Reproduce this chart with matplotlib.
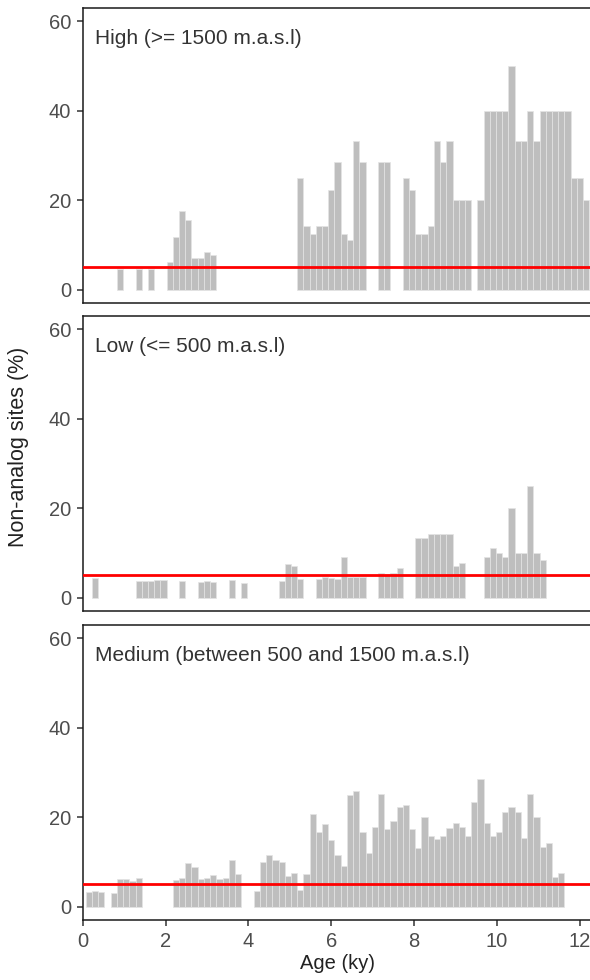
import matplotlib
matplotlib.use("Agg")
import matplotlib.pyplot as plt

# Non-analog sites (%) per 0.15 ky age bin, by elevation class
bin_width = 0.15
threshold = 5

high_age = [0.90, 1.35, 1.65,
            2.10, 2.25, 2.40, 2.55, 2.70, 2.85, 3.00, 3.15,
            5.25, 5.40, 5.55, 5.70, 5.85, 6.00, 6.15, 6.30, 6.45, 6.60, 6.75,
            7.20, 7.35,
            7.80, 7.95, 8.10, 8.25, 8.40, 8.55, 8.70, 8.85, 9.00, 9.15, 9.30,
            9.60, 9.75, 9.90, 10.05, 10.20, 10.35, 10.50, 10.65, 10.80, 10.95,
            11.10, 11.25, 11.40, 11.55, 11.70, 11.85, 12.00, 12.15]
high_pct = [4.5, 4.5, 4.5,
            6.2, 11.8, 17.6, 15.5, 7.1, 7.1, 8.3, 7.7,
            25.0, 14.3, 12.5, 14.3, 14.3, 22.2, 28.6, 12.5, 11.1, 33.3, 28.6,
            28.6, 28.6,
            25.0, 22.2, 12.5, 12.5, 14.3, 33.3, 28.6, 33.3, 20.0, 20.0, 20.0,
            20.0, 40.0, 40.0, 40.0, 40.0, 50.0, 33.3, 33.3, 40.0, 33.3,
            40.0, 40.0, 40.0, 40.0, 40.0, 25.0, 25.0, 20.0]

low_age = [0.30,
           1.35, 1.50, 1.65, 1.80, 1.95,
           2.40,
           2.85, 3.00, 3.15,
           3.60, 3.90,
           4.80, 4.95, 5.10, 5.25,
           5.70, 5.85, 6.00, 6.15, 6.30, 6.45, 6.60, 6.75,
           7.20, 7.35, 7.50, 7.65,
           8.10, 8.25, 8.40, 8.55, 8.70, 8.85, 9.00, 9.15,
           9.75, 9.90, 10.05, 10.20, 10.35, 10.50, 10.65, 10.80, 10.95, 11.10]
low_pct = [4.4,
           3.8, 3.8, 3.8, 3.9, 4.0,
           3.6,
           3.5, 3.6, 3.5,
           3.9, 3.3,
           3.8, 7.5, 7.1, 4.1,
           4.1, 4.6, 4.4, 4.2, 9.1, 4.6, 4.6, 4.6,
           5.6, 5.3, 5.6, 6.7,
           13.3, 13.3, 14.3, 14.3, 14.3, 14.3, 7.1, 7.7,
           9.1, 11.1, 10.0, 9.1, 20.0, 10.0, 10.0, 25.0, 10.0, 8.3]

medium_age = [0.15, 0.30, 0.45,
              0.75, 0.90, 1.05, 1.20, 1.35,
              2.25, 2.40, 2.55, 2.70, 2.85, 3.00, 3.15, 3.30, 3.45, 3.60, 3.75,
              4.20, 4.35, 4.50, 4.65, 4.80, 4.95, 5.10, 5.25, 5.40, 5.55,
              5.70, 5.85, 6.00, 6.15, 6.30, 6.45, 6.60, 6.75, 6.90, 7.05,
              7.20, 7.35, 7.50, 7.65, 7.80, 7.95, 8.10, 8.25, 8.40, 8.55,
              8.70, 8.85, 9.00, 9.15, 9.30, 9.45, 9.60, 9.75, 9.90, 10.05,
              10.20, 10.35, 10.50, 10.65, 10.80, 10.95, 11.10, 11.25, 11.40, 11.55]
medium_pct = [3.3, 3.5, 3.2,
              3.1, 6.2, 6.1, 5.7, 6.5,
              5.9, 6.5, 9.7, 8.8, 6.1, 6.5, 7.1, 6.1, 6.5, 10.4, 7.4,
              3.6, 10.0, 11.5, 10.4, 10.0, 6.8, 7.6, 3.7, 7.4, 20.7,
              16.8, 18.5, 14.9, 11.5, 9.1, 25.0, 25.9, 16.8, 12.0, 17.9,
              25.1, 17.4, 19.2, 22.2, 22.7, 17.3, 13.0, 20.0, 15.8, 15.1,
              15.8, 17.5, 18.8, 17.7, 15.8, 23.5, 28.5, 18.8, 15.8, 16.8,
              21.2, 22.2, 21.1, 15.3, 25.1, 20.0, 13.3, 14.3, 6.6, 7.6]

panel_labels = ["High (>= 1500 m.a.s.l)",
                "Low (<= 500 m.a.s.l)",
                "Medium (between 500 and 1500 m.a.s.l)"]
panels = [(high_age, high_pct), (low_age, low_pct), (medium_age, medium_pct)]

plt.rcParams['font.family'] = ['Liberation Sans', 'DejaVu Sans']

W, H = 590, 980
fig = plt.figure(figsize=(W / 100, H / 100), dpi=100)

left_px, right_px = 82.7, 596
tops_px = [8, 316, 625]
panel_h = 295
px_per_ky = 41.44

for i, ((ages, pct), label) in enumerate(zip(panels, panel_labels)):
    top = tops_px[i]
    ax = fig.add_axes([left_px / W, 1 - (top + panel_h) / H,
                       (right_px - left_px) / W, panel_h / H])
    ax.bar(ages, pct, width=bin_width, color='#BEBEBE',
           edgecolor='#E4E4E4', linewidth=0.5, zorder=2)
    ax.axhline(threshold, color='#FF0000', linewidth=2.0, zorder=3)
    ax.set_xlim(0, (right_px - left_px) / px_per_ky)
    ax.set_ylim(-3, 63)
    ax.set_yticks([0, 20, 40, 60])
    ax.set_xticks([0, 2, 4, 6, 8, 10, 12])
    for s in ax.spines.values():
        s.set_linewidth(1.1)
        s.set_color('#1A1A1A')
    ax.tick_params(axis='both', length=4.5, width=1.1, color='#333333',
                   labelsize=14.5, labelcolor='#4D4D4D', pad=4)
    if i < 2:
        ax.tick_params(axis='x', bottom=False, labelbottom=False)
    ax.text(0.024, 0.877, label, transform=ax.transAxes, ha='left',
            va='baseline', fontsize=15, color='#333333')

fig.text(19 / W, 1 - 447 / H, "Non-analog sites (%)", rotation=90,
         ha='center', va='center', fontsize=15.5, color='#222222')
fig.text(337 / W, 1 - 963 / H, "Age (ky)", ha='center', va='center',
         fontsize=14.5, color='#222222')

fig.savefig("out.png", dpi=100)
